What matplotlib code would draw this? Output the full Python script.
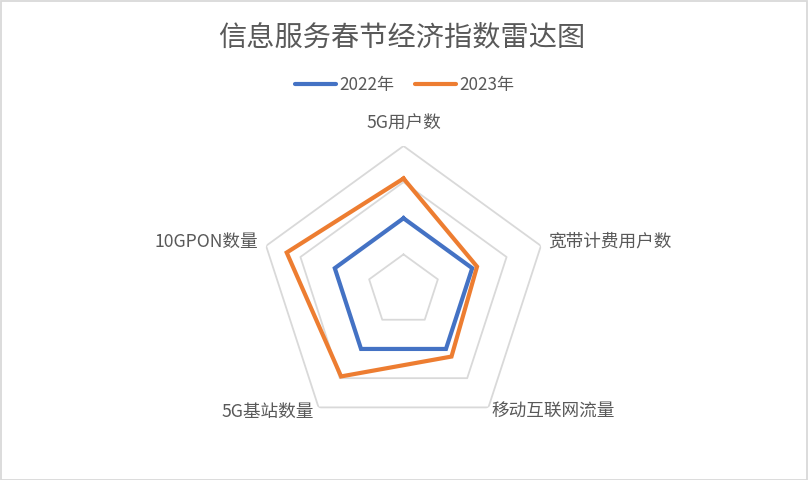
import numpy as np
import matplotlib
matplotlib.use("Agg")
import matplotlib.pyplot as plt
from matplotlib.patches import Rectangle

plt.rcParams['font.family'] = ['Noto Sans CJK SC', 'DejaVu Sans']

# ---- data ----
categories = ["5G用户数", "宽带计费用户数", "移动互联网流量", "5G基站数量", "10GPON数量"]
series_names = ["2022年", "2023年"]
values_2022 = [100, 100, 100, 100, 100]
values_2023 = [155, 107, 113, 147, 170]
ring_levels = [50, 100, 150, 200]
r_max = 200

colors = ["#4472C4", "#ED7D31"]
text_color = "#595959"
grid_color = "#D9D9D9"

W, H = 808, 480
fig = plt.figure(figsize=(W / 100, H / 100), dpi=100)

# border
fig.patches.append(Rectangle((0.5 / W, 0.5 / H), 1 - 1.5 / W, 1 - 1.5 / H, transform=fig.transFigure,
                             fill=False, edgecolor=grid_color, linewidth=1.3))

# polar axes positioned so centre is at (403.5, 290.5)px and radius 144.5px
cx, cy, R = 403.5, 290.5, 144.5
ax = fig.add_axes([(cx - R) / W, (H - cy - R) / H, 2 * R / W, 2 * R / H], projection='polar')
ax.set_theta_offset(np.pi / 2)
ax.set_theta_direction(-1)
ax.set_ylim(0, r_max)
ax.grid(False)
ax.spines['polar'].set_visible(False)
ax.set_xticks([])
ax.set_yticks([])
ax.patch.set_alpha(0)

n = len(categories)
theta = np.arange(n) * 2 * np.pi / n
theta_closed = np.append(theta, theta[0])

# pentagon grid rings
for lvl in ring_levels:
    ax.plot(theta_closed, [lvl] * (n + 1), color=grid_color, linewidth=1.3, zorder=1)

for vals, c, name in zip([values_2022, values_2023], colors, series_names):
    v = np.append(vals, vals[0])
    ax.plot(theta_closed, v, color=c, linewidth=3.0, label=name, zorder=3,
            solid_joinstyle='miter')

# category labels
label_specs = [
    dict(off=(0, 16.5), ha='center', va='center'),
    dict(off=(5, 3), ha='left', va='center'),
    dict(off=(2.3, -3), ha='left', va='center'),
    dict(off=(-3.7, -3), ha='right', va='center'),
    dict(off=(-5.5, 3), ha='right', va='center'),
]
for t, lab, spec in zip(theta, categories, label_specs):
    ax.annotate(lab, xy=(t, r_max), xytext=spec['off'], textcoords='offset points',
                ha=spec['ha'], va=spec['va'], fontsize=12.7, color=text_color,
                annotation_clip=False)

fig.text(402 / W, 1 - 37 / H, "信息服务春节经济指数雷达图", ha='center', va='center',
         fontsize=20.3, color=text_color)

handles, labels = ax.get_legend_handles_labels()
leg = fig.legend(handles, labels, loc='center', bbox_to_anchor=(405 / W, 1 - 85 / H), ncol=2,
                 frameon=False, fontsize=12.3, handlelength=2.4, handletextpad=0.2,
                 columnspacing=1.2, labelcolor=text_color)
for lh in leg.get_lines():
    lh.set_linewidth(3.0)
    lh.set_solid_capstyle('round')

fig.savefig("out.png", dpi=100)
